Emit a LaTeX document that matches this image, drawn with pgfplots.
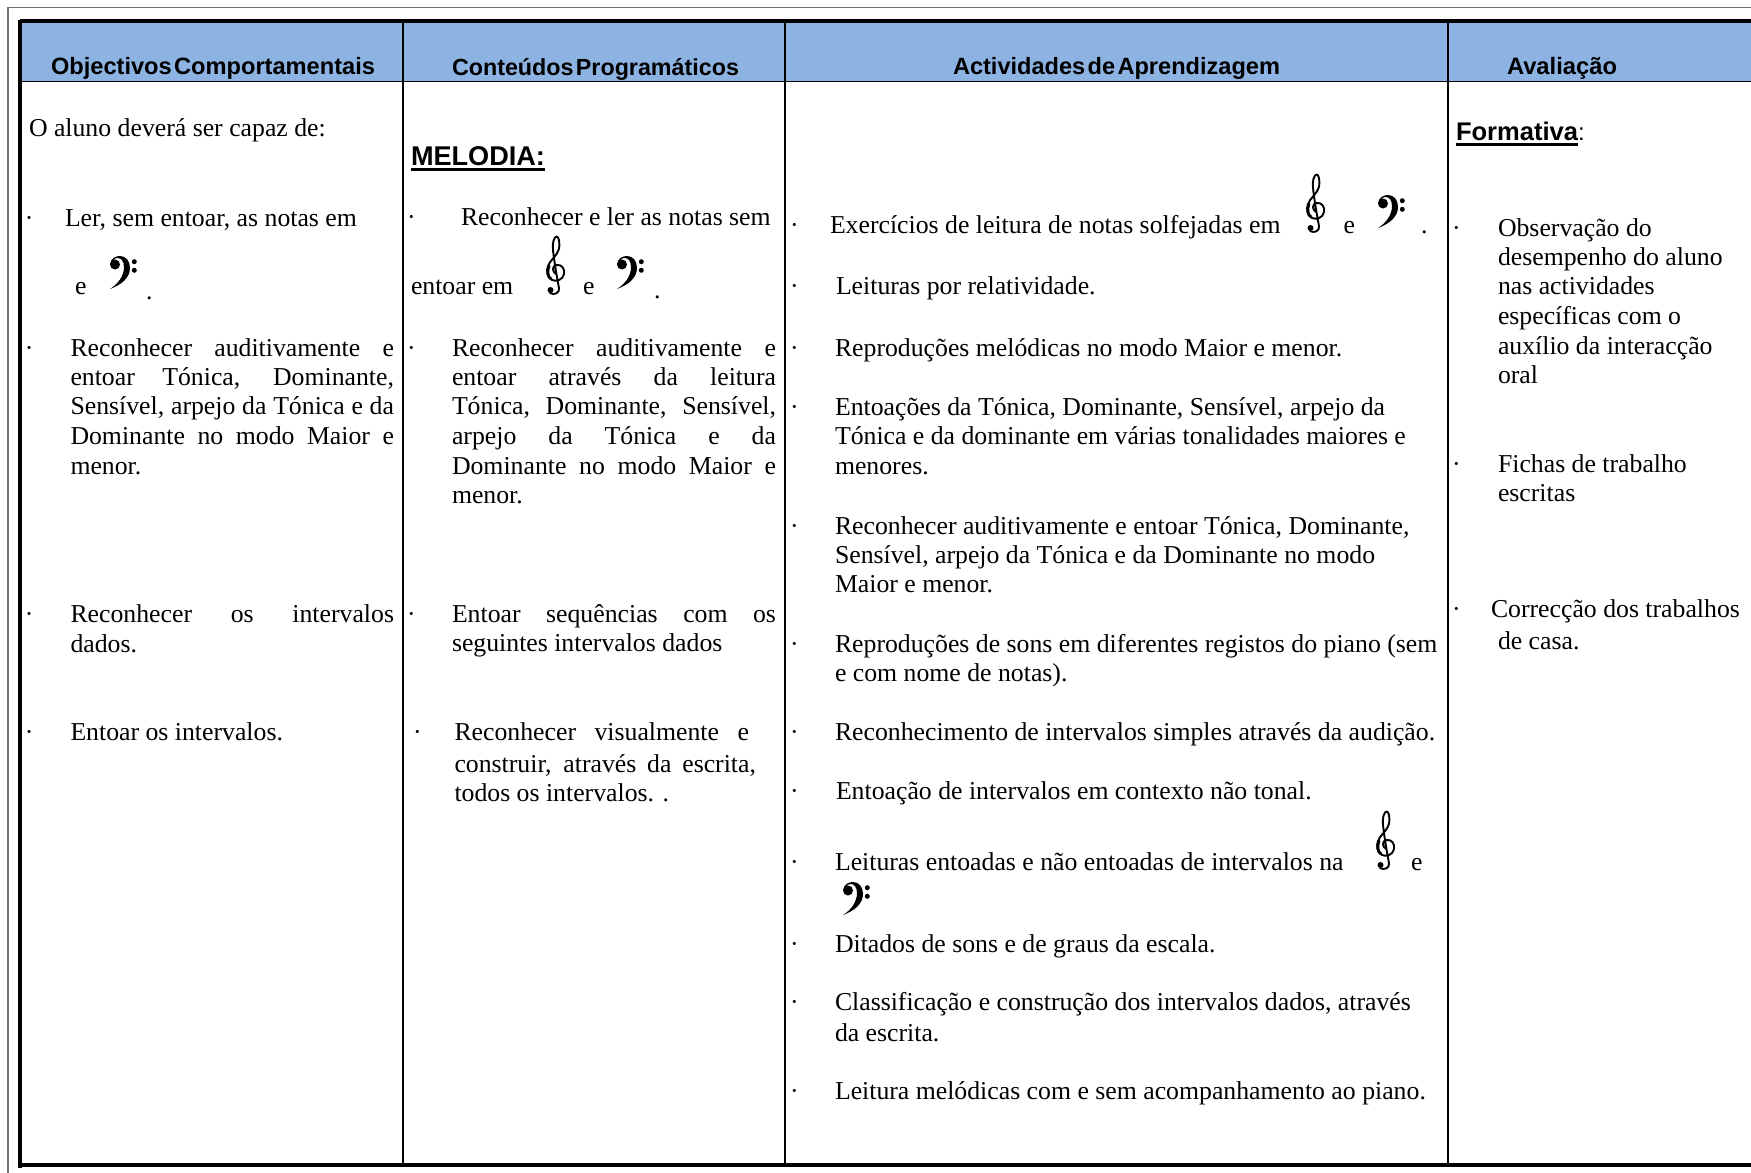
\documentclass[border=0pt]{standalone}
\usepackage{fontspec}
\usepackage{graphicx}
\usepackage{pgfplots}
\pgfplotsset{compat=1.18}
\setmainfont{Liberation Serif}
\newfontfamily\arialf{Liberation Sans}
\definecolor{hdr}{RGB}{141,179,226}
\newcommand{\body}{\fontsize{12.88}{14}\selectfont}
\newcommand{\tl}[3]{\node[anchor=base west,inner sep=0pt,outer sep=0pt] at (axis cs:#1,#2) {\body #3};}
\newcommand{\tj}[4]{\node[anchor=base west,inner sep=0pt,outer sep=0pt] at (axis cs:#1,#2) {\body\makebox[#3pt][s]{#4}};}
% x, baseline y, width in pt, text
\newcommand{\hd}[4]{\node[anchor=base west,inner sep=0pt,outer sep=0pt] at (axis cs:#1,#2) {\resizebox{#3pt}{!}{\arialf\bfseries\fontsize{12}{14}\selectfont\spaceskip=1.2pt #4}};}
\newcommand{\ul}[4]{\node[anchor=base west,inner sep=0pt,outer sep=0pt] at (axis cs:#1,#2) {\rlap{\rule[-3pt]{#3pt}{1.3pt}}\resizebox{#3pt}{!}{\arialf\bfseries\fontsize{12}{14}\selectfont #4}};}
% clefs: drawn shapes (no installed font has them); x,y = top left corner in picture pixels
\newcommand{\treble}[2]{%
\draw[black,line width=0.95pt,line cap=round,line join=round,shift={(axis cs:#1,#2)},xscale=0.5,yscale=-0.5]
 (10pt,38pt) .. controls (6pt,36pt) and (6pt,30pt) .. (10pt,29pt)
 .. controls (16pt,28pt) and (19pt,33pt) .. (18pt,38pt)
 .. controls (17pt,44pt) and (10pt,46pt) .. (6pt,44pt)
 .. controls (1pt,41pt) and (0pt,35pt) .. (2pt,30pt)
 .. controls (4pt,24pt) and (11pt,20pt) .. (13pt,13pt)
 .. controls (14pt,8pt) and (13pt,1pt) .. (11pt,0.5pt)
 .. controls (8pt,0pt) and (6pt,8pt) .. (7pt,14pt)
 .. controls (8pt,24pt) and (11pt,42pt) .. (13pt,52pt)
 .. controls (14pt,57pt) and (8pt,59.5pt) .. (4pt,57pt);
\draw[black,line width=1.4pt,line cap=round,shift={(axis cs:#1,#2)},xscale=0.5,yscale=-0.5]
 (5pt,43pt) .. controls (1.5pt,41pt) and (1pt,35pt) .. (3pt,30pt);
\fill[black,shift={(axis cs:#1,#2)},xscale=0.5,yscale=-0.5] (4.5pt,54pt) circle[radius=3pt];}
\newcommand{\bass}[2]{%
\fill[black,shift={(axis cs:#1,#2)},xscale=0.5,yscale=-0.5]
 (1pt,8pt) .. controls (2pt,2pt) and (7pt,0pt) .. (11pt,0pt)
 .. controls (17pt,0pt) and (21pt,5pt) .. (21pt,12pt)
 .. controls (21pt,22pt) and (12pt,29pt) .. (1pt,33pt)
 .. controls (9pt,28pt) and (15pt,20pt) .. (15pt,11pt)
 .. controls (15pt,5pt) and (12pt,2pt) .. (9pt,2pt)
 .. controls (5pt,2pt) and (3pt,5pt) .. (1pt,8pt) -- cycle
 (6pt,8.5pt) circle[radius=5pt]
 (25.3pt,5.7pt) circle[radius=2.5pt]
 (25.3pt,14.3pt) circle[radius=2.5pt];}
\begin{document}
\begin{tikzpicture}
\path[use as bounding box] (0pt,0.7pt) rectangle (875.5pt,587pt);
\begin{axis}[at={(0pt,0pt)},anchor=south west,width=875.5pt,height=587pt,scale only axis,xmin=0,xmax=1751,ymin=0,ymax=1174,y dir=reverse,hide axis,clip=true]
\addplot[fill=hdr,draw=none] coordinates {(20,21)(1751,21)(1751,81)(20,81)} --cycle;
\addplot[black!55,line width=0.6pt] coordinates {(8,1174)(8,7.5)(1751,7.5)};
\addplot[black,line width=1.8pt] coordinates {(1751,21)(20,21)};
\addplot[black,line width=1.6pt] coordinates {(20,20)(20,1168)};
\addplot[black,line width=2.4pt] coordinates {(19,1165)(1751,1165)};
\addplot[black,line width=0.85pt] coordinates {(20,81.5)(1751,81.5)};
\addplot[black,line width=1pt] coordinates {(403,21)(403,1166)};
\addplot[black,line width=1pt] coordinates {(785,21)(785,1166)};
\addplot[black,line width=1pt] coordinates {(1448,21)(1448,1166)};
% headers
\hd{51}{75}{162}{Objectivos Comportamentais}
\hd{452}{75}{143.5}{Conteúdos Programáticos}
\hd{953}{75}{163.5}{Actividades de Aprendizagem}
\hd{1507}{75}{55}{Avaliação}
% column 1
\tl{29}{136}{O aluno deverá ser capaz de:}
\tl{25}{226}{·}\tl{65}{226}{Ler, sem entoar, as notas em}
\tl{75}{294}{e}\bass{109}{256}\tl{146}{299}{.}
\tl{25}{356}{·}
\tj{70.5}{356}{161.75}{Reconhecer auditivamente e}
\tj{70.5}{385}{161.75}{entoar Tónica, Dominante,}
\tj{70.5}{414}{161.75}{Sensível, arpejo da Tónica e da}
\tj{70.5}{444}{161.75}{Dominante no modo Maior e}
\tl{70.5}{474}{menor.}
\tl{25}{622}{·}
\tj{70.5}{622}{161.75}{Reconhecer os intervalos}
\tl{70.5}{652}{dados.}
\tl{25}{740}{·}\tl{70.5}{740}{Entoar os intervalos.}
% column 2
\ul{411}{165}{67}{MELODIA:}
\tl{407}{225}{·}\tl{461}{225}{Reconhecer e ler as notas sem}
\tl{411}{294}{entoar em}\treble{546}{236}\tl{583}{294}{e}\bass{616}{256}\tl{654}{298}{.}
\tl{407}{356}{·}
\tj{452}{356}{162}{Reconhecer auditivamente e}
\tj{452}{385}{162}{entoar através da leitura}
\tj{452}{414}{162}{Tónica, Dominante, Sensível,}
\tj{452}{444}{162}{arpejo da Tónica e da}
\tj{452}{474}{162}{Dominante no modo Maior e}
\tl{452}{503}{menor.}
\tl{407}{622}{·}
\tj{452}{622}{162}{Entoar sequências com os}
\tl{452}{651}{seguintes intervalos dados}
\tl{413}{740}{·}
\tj{454.5}{740}{147.25}{Reconhecer visualmente e}
\tj{454.5}{772}{150.75}{construir, através da escrita,}
\tl{454.5}{801}{todos os intervalos. .}
% column 3
\tl{790}{233}{·}\tl{830}{233}{Exercícios de leitura de notas solfejadas em}
\treble{1306}{174}\tl{1343.5}{233}{e}\bass{1377}{195}\tl{1421}{233}{.}
\tl{790}{294}{·}\tl{836}{294}{Leituras por relatividade.}
\tl{790}{356}{·}\tl{835}{356}{Reproduções melódicas no modo Maior e menor.}
\tl{790}{415}{·}\tl{835}{415}{Entoações da Tónica, Dominante, Sensível, arpejo da}
\tl{835}{444}{Tónica e da dominante em várias tonalidades maiores e}
\tl{835}{474}{menores.}
\tl{790}{534}{·}\tl{835}{534}{Reconhecer auditivamente e entoar Tónica, Dominante,}
\tl{835}{563}{Sensível, arpejo da Tónica e da Dominante no modo}
\tl{835}{592}{Maior e menor.}
\tl{790}{652}{·}\tl{835}{652}{Reproduções de sons em diferentes registos do piano (sem}
\tl{835}{681}{e com nome de notas).}
\tl{790}{740}{·}\tl{835}{740}{Reconhecimento de intervalos simples através da audição.}
\tl{790}{799}{·}\tl{836}{799}{Entoação de intervalos em contexto não tonal.}
\tl{790}{870}{·}\tl{835}{870}{Leituras entoadas e não entoadas de intervalos na}
\treble{1376}{811}\tl{1411}{870}{e}\bass{842}{882}
\tl{790}{952}{·}\tl{835}{952}{Ditados de sons e de graus da escala.}
\tl{790}{1010}{·}\tl{835}{1010}{Classificação e construção dos intervalos dados, através}
\tl{835}{1041}{da escrita.}
\tl{790}{1099}{·}\tl{835}{1099}{Leitura melódicas com e sem acompanhamento ao piano.}
% column 4
\node[anchor=base west,inner sep=0pt,outer sep=0pt] at (axis cs:1456,140) {\rlap{\rule[-3pt]{61pt}{1.3pt}}\resizebox{61pt}{!}{\arialf\bfseries\fontsize{12}{14}\selectfont Formativa}\arialf\fontsize{12}{14}\selectfont:};
\tl{1452}{236}{·}\tl{1498}{236}{Observação do}
\tl{1498}{265}{desempenho do aluno}
\tl{1498}{294}{nas actividades}
\tl{1498}{324}{específicas com o}
\tl{1498}{354}{auxílio da interacção}
\tl{1498}{383}{oral}
\tl{1452}{472}{·}\tl{1498}{472}{Fichas de trabalho}
\tl{1498}{501}{escritas}
\tl{1452}{617}{·}\tl{1491}{617}{Correcção dos trabalhos}
\tl{1498}{649}{de casa.}
\end{axis}
\end{tikzpicture}
\end{document}
